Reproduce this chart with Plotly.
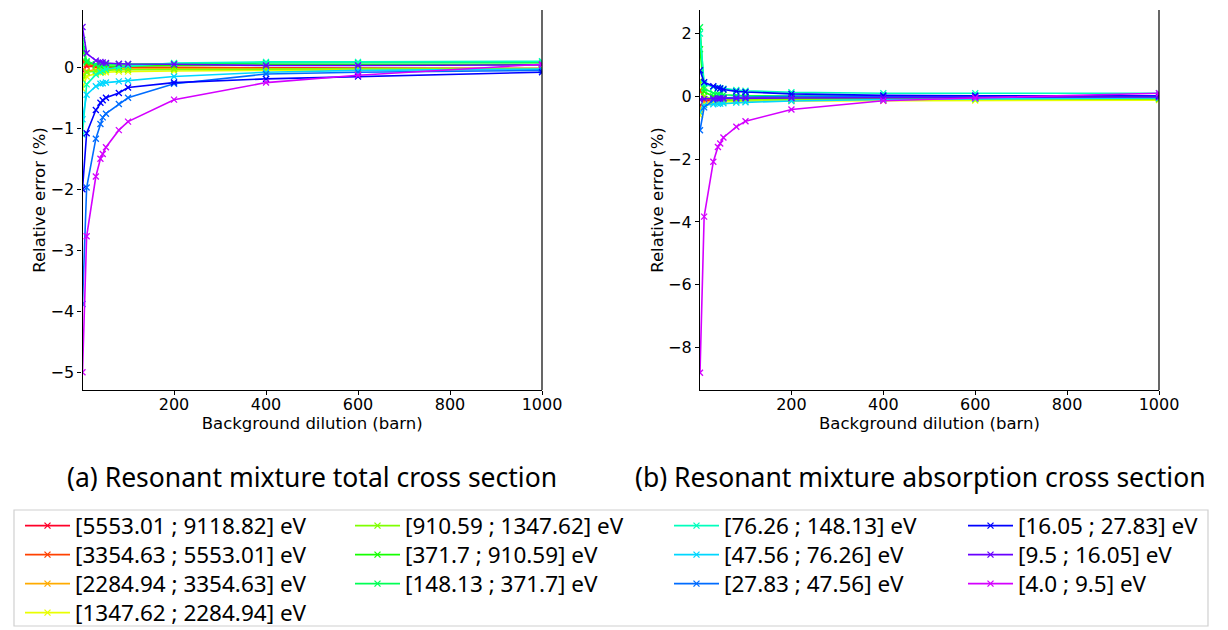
import plotly.graph_objects as go

# ---------------- data ----------------
x_dilution = [1, 10, 30, 40, 45, 52, 80, 100, 200, 400, 600, 1000]

group_labels = [
    "[5553.01 ; 9118.82] eV", "[3354.63 ; 5553.01] eV", "[2284.94 ; 3354.63] eV",
    "[1347.62 ; 2284.94] eV", "[910.59 ; 1347.62] eV", "[371.7 ; 910.59] eV",
    "[148.13 ; 371.7] eV", "[76.26 ; 148.13] eV", "[47.56 ; 76.26] eV",
    "[27.83 ; 47.56] eV", "[16.05 ; 27.83] eV", "[9.5 ; 16.05] eV", "[4.0 ; 9.5] eV",
]

# (a) total cross section, relative error (%)
tot_g1 = [-0.05, 0.02, 0.01, 0.00, 0.00, 0.00, 0.00, 0.00, 0.00, -0.01, -0.01, -0.02]
tot_g2 = [0.10, 0.05, 0.02, 0.01, 0.01, 0.01, 0.00, 0.00, -0.01, -0.01, -0.02, -0.02]
tot_g3 = [-0.12, -0.06, -0.04, -0.03, -0.03, -0.03, -0.03, -0.03, -0.03, -0.03, -0.03, -0.03]
tot_g4 = [-0.35, -0.15, -0.10, -0.09, -0.08, -0.08, -0.07, -0.07, -0.06, -0.05, -0.04, -0.03]
tot_g5 = [-0.20, -0.08, -0.06, -0.05, -0.05, -0.05, -0.04, -0.04, -0.03, -0.03, -0.02, -0.02]
tot_g6 = [0.30, 0.08, 0.04, 0.03, 0.03, 0.02, 0.02, 0.02, 0.03, 0.04, 0.04, 0.05]
tot_g7 = [0.45, 0.10, 0.05, 0.05, 0.05, 0.05, 0.05, 0.05, 0.06, 0.07, 0.07, 0.08]
tot_g8 = [-1.10, -0.28, -0.12, -0.08, -0.05, -0.03, 0.00, 0.02, 0.07, 0.09, 0.09, 0.10]
tot_g9 = [-0.85, -0.45, -0.31, -0.27, -0.26, -0.25, -0.23, -0.22, -0.15, -0.08, -0.05, -0.03]
tot_g10 = [-3.88, -1.97, -1.17, -0.93, -0.82, -0.76, -0.60, -0.50, -0.27, -0.11, -0.08, -0.05]
tot_g11 = [-2.00, -1.08, -0.70, -0.58, -0.54, -0.50, -0.42, -0.33, -0.25, -0.19, -0.15, -0.08]
tot_g12 = [0.66, 0.23, 0.11, 0.09, 0.08, 0.07, 0.06, 0.055, 0.05, 0.03, 0.03, 0.04]
tot_g13 = [-5.00, -2.77, -1.79, -1.50, -1.42, -1.31, -1.03, -0.89, -0.53, -0.25, -0.13, 0.05]

# (b) absorption cross section, relative error (%)
abs_g1 = [-0.30, -0.15, -0.10, -0.09, -0.09, -0.08, -0.07, -0.07, -0.06, -0.05, -0.05, -0.05]
abs_g2 = [0.20, -0.10, -0.08, -0.07, -0.07, -0.07, -0.06, -0.06, -0.05, -0.05, -0.05, -0.04]
abs_g3 = [-0.40, -0.20, -0.15, -0.14, -0.13, -0.13, -0.12, -0.12, -0.10, -0.09, -0.08, -0.08]
abs_g4 = [-0.60, -0.25, -0.20, -0.19, -0.18, -0.18, -0.17, -0.16, -0.15, -0.14, -0.13, -0.12]
abs_g5 = [0.50, 0.00, -0.10, -0.12, -0.12, -0.12, -0.12, -0.11, -0.10, -0.10, -0.09, -0.09]
abs_g6 = [1.50, 0.15, 0.00, -0.03, -0.04, -0.05, -0.05, -0.05, -0.05, -0.05, -0.05, -0.05]
abs_g7 = [2.20, 0.25, 0.10, 0.07, 0.06, 0.05, 0.03, 0.02, 0.01, 0.00, 0.00, 0.00]
abs_g8 = [2.00, 0.40, 0.30, 0.28, 0.26, 0.24, 0.20, 0.18, 0.13, 0.10, 0.10, 0.10]
abs_g9 = [-0.50, -0.28, -0.25, -0.24, -0.23, -0.22, -0.20, -0.19, -0.15, -0.10, -0.08, -0.05]
abs_g10 = [-1.08, -0.35, -0.12, -0.08, -0.06, -0.05, -0.03, -0.02, 0.00, 0.01, 0.02, 0.02]
abs_g11 = [0.83, 0.45, 0.32, 0.27, 0.25, 0.22, 0.16, 0.14, 0.08, 0.03, 0.02, 0.01]
abs_g12 = [-0.10, -0.08, -0.07, -0.07, -0.07, -0.07, -0.07, -0.06, -0.05, -0.04, -0.03, -0.02]
abs_g13 = [-8.80, -3.83, -2.08, -1.61, -1.50, -1.31, -0.97, -0.79, -0.42, -0.14, -0.05, 0.10]

total_series = [tot_g1, tot_g2, tot_g3, tot_g4, tot_g5, tot_g6, tot_g7,
                tot_g8, tot_g9, tot_g10, tot_g11, tot_g12, tot_g13]
absorption_series = [abs_g1, abs_g2, abs_g3, abs_g4, abs_g5, abs_g6, abs_g7,
                     abs_g8, abs_g9, abs_g10, abs_g11, abs_g12, abs_g13]

# gist_rainbow style colours
colors = ["#ff0029", "#ff4100", "#ffab00", "#e9ff00", "#7fff00", "#15ff00", "#00ff55",
          "#00ffbd", "#00d7ff", "#006cff", "#0001ff", "#6900ff", "#d400ff"]

# legend layout (matplotlib ncol=4 fills column by column: 4,3,3,3)
legend_col = [0, 0, 0, 0, 1, 1, 1, 2, 2, 2, 3, 3, 3]
legend_row = [0, 1, 2, 3, 0, 1, 2, 0, 1, 2, 0, 1, 2]
col_left_px = [20, 350, 669, 963]
row_center_px = [526, 555, 584, 613]

W, H = 1228, 630

def px_x(p):
    return p / W

def px_y(p):
    return 1 - p / H

fig = go.Figure()

legend_names = ["legend" if i == 0 else f"legend{i + 1}" for i in range(len(group_labels))]

for i, lab in enumerate(group_labels):
    fig.add_trace(go.Scatter(
        x=x_dilution, y=total_series[i], mode="lines+markers", name=lab,
        line=dict(color=colors[i], width=1.6),
        marker=dict(symbol="x-thin", size=6, line=dict(color=colors[i], width=1.3)),
        xaxis="x", yaxis="y", legend=legend_names[i], showlegend=True,
    ))
for i, lab in enumerate(group_labels):
    fig.add_trace(go.Scatter(
        x=x_dilution, y=absorption_series[i], mode="lines+markers", name=lab,
        line=dict(color=colors[i], width=1.6),
        marker=dict(symbol="x-thin", size=6, line=dict(color=colors[i], width=1.3)),
        xaxis="x2", yaxis="y2", showlegend=False,
    ))

axis_font = dict(family="DejaVu Sans", size=16.5, color="black")
tick_font = dict(family="DejaVu Sans", size=16, color="black")

common_x = dict(
    range=[1, 1000], tickvals=[200, 400, 600, 800, 1000],
    showline=True, linecolor="black", linewidth=1.2, ticks="outside", ticklen=4,
    tickcolor="black", showgrid=False, zeroline=False, tickfont=tick_font,
    ticklabelstandoff=-4,
    title=dict(text="Background dilution (barn)", font=axis_font, standoff=0),
)
common_y = dict(
    showline=True, linecolor="black", linewidth=1.2, ticks="outside", ticklen=4,
    tickcolor="black", showgrid=False, zeroline=False, tickfont=tick_font,
    title=dict(text="Relative error (%)", font=axis_font, standoff=0),
)

legend_layouts = {}
for i, ln in enumerate(legend_names):
    legend_layouts[ln] = dict(
        x=px_x(col_left_px[legend_col[i]]), y=px_y(row_center_px[legend_row[i]]),
        xanchor="left", yanchor="middle",
        bgcolor="rgba(0,0,0,0)", font=dict(family="Noto Sans", size=22.5, color="black"),
        itemwidth=45,
    )

fig.update_layout(
    width=W, height=H, paper_bgcolor="white", plot_bgcolor="white",
    margin=dict(l=0, r=0, t=0, b=0, autoexpand=False),
    xaxis=dict(domain=[px_x(82.5), px_x(542)], anchor="y", **common_x),
    yaxis=dict(domain=[px_y(390), px_y(10)], anchor="x", range=[-5.29, 0.94],
               tickvals=[-5, -4, -3, -2, -1, 0], **common_y),
    xaxis2=dict(domain=[px_x(700), px_x(1159)], anchor="y2", **common_x),
    yaxis2=dict(domain=[px_y(390), px_y(10)], anchor="x2", range=[-9.35, 2.75],
                tickvals=[-8, -6, -4, -2, 0, 2], **common_y),
    showlegend=True,
    shapes=[
        dict(type="line", xref="x domain", yref="y domain", x0=1, x1=1, y0=0, y1=1,
             line=dict(color="black", width=1.2)),
        dict(type="line", xref="x2 domain", yref="y2 domain", x0=1, x1=1, y0=0, y1=1,
             line=dict(color="black", width=1.2)),
        dict(type="rect", xref="paper", yref="paper", x0=px_x(14), x1=px_x(1208),
             y0=px_y(626), y1=px_y(510), line=dict(color="#d0d0d0", width=1.2)),
    ],
    annotations=[
        dict(text="(a) Resonant mixture total cross section", xref="paper", yref="paper",
             x=px_x(312), y=px_y(477), showarrow=False, xanchor="center", yanchor="middle",
             font=dict(family="Noto Sans", size=26.5, color="black")),
        dict(text="(b) Resonant mixture absorption cross section", xref="paper", yref="paper",
             x=px_x(920), y=px_y(477), showarrow=False, xanchor="center", yanchor="middle",
             font=dict(family="Noto Sans", size=26.5, color="black")),
    ],
)
fig.update_layout(**legend_layouts)

fig.write_html("out.html")
